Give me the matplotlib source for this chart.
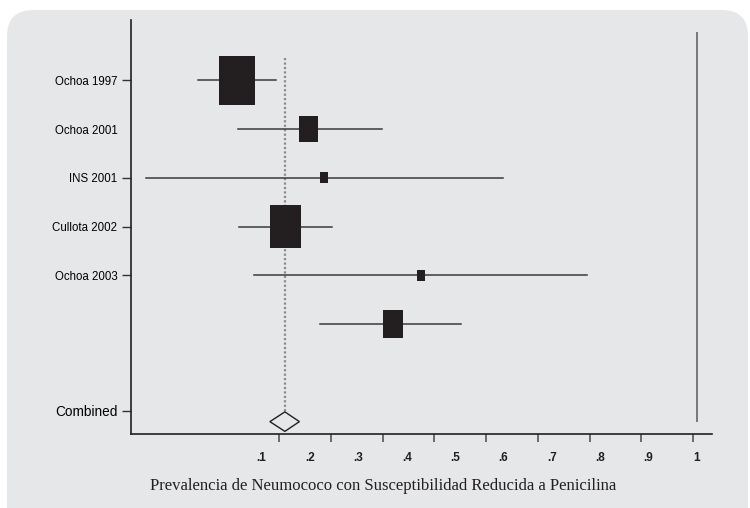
import numpy as np
import matplotlib
matplotlib.use("Agg")
import matplotlib.pyplot as plt
from matplotlib.patches import Rectangle, Polygon, FancyBboxPatch

# study data (estimate, lower CI, upper CI, weight %)
studies = ["Ochoa 1997", "Ochoa 2001", "INS 2001", "Cullota 2002", "Ochoa 2003", ""]
est = [0.049, 0.197, 0.229, 0.149, 0.429, 0.372]
lo = [-0.032, 0.051, -0.140, 0.053, 0.085, 0.221]
hi = [0.130, 0.349, 0.599, 0.245, 0.772, 0.512]
weights = [41.2, 11.5, 2.0, 30.5, 2.0, 12.7]

combined_est = 0.148
combined_lo = 0.117
combined_hi = 0.178

xtick_labels = [".1", ".2", ".3", ".4", ".5", ".6", ".7", ".8", ".9", "1"]
xtick_vals = [0.1, 0.2, 0.3, 0.4, 0.5, 0.6, 0.7, 0.8, 0.9, 1.0]

plt.rcParams['font.family'] = ['Liberation Sans', 'DejaVu Sans']

fig = plt.figure(figsize=(7.5, 5.08), dpi=100)
fig.patch.set_facecolor('white')

# rounded grey panel behind the plot
panel = FancyBboxPatch((7 / 750, -0.1), 741 / 750, (508 - 10) / 508 + 0.1,
                       boxstyle="round,pad=0,rounding_size=0.035",
                       transform=fig.transFigure, facecolor='#e6e7e9',
                       edgecolor='none', zorder=-10,
                       mutation_aspect=750 / 508)
fig.patches.append(panel)

ax = fig.add_axes([131.3 / 750, (508 - 434.3) / 508, (711.7 - 131.3) / 750, (434.3 - 20) / 508])
ax.set_facecolor('none')

ax.set_xlim(-0.1695, 1.0304)
ax.set_ylim(7.26, -1.24)

# px -> data scales (for box sizing)
px_x = (1.0304 + 0.1695) / (711.7 - 131.3)
px_y = 8.5 / (434.3 - 20)

combined_row = 7.0

# dotted line at combined estimate
ax.plot([combined_est, combined_est], [-0.46, combined_row - 0.2], color='#8a8a8a',
        linestyle=(0, (1, 1)), linewidth=1.6, zorder=1)

# vertical line at 1
ax.plot([1.0, 1.0], [-0.98, 6.98], color='#777777', linewidth=1.4, zorder=1)

for i, (e, l, h, w) in enumerate(zip(est, lo, hi, weights)):
    ax.plot([l, h], [i, i], color='#3a3a3a', linewidth=1.1, zorder=2)
    bw = 36 * np.sqrt(w / 41.2) * px_x
    bh = 36 * 1.38 * np.sqrt(w / 41.2) * px_y
    ax.add_patch(Rectangle((e - bw / 2, i - bh / 2), bw, bh,
                           facecolor='#231f20', edgecolor='none', zorder=3))

# combined diamond
dh = 0.2
ax.add_patch(Polygon([[combined_lo, combined_row], [combined_est, combined_row - dh],
                      [combined_hi, combined_row], [combined_est, combined_row + dh]],
                     closed=True, facecolor='none', edgecolor='#231f20',
                     linewidth=1.0, zorder=3))

# axes styling
for s in ['top', 'right']:
    ax.spines[s].set_visible(False)
ax.spines['left'].set_linewidth(1.2)
ax.spines['bottom'].set_linewidth(1.2)
ax.spines['left'].set_color('#231f20')
ax.spines['bottom'].set_color('#231f20')

# y labels
ylabels = studies[:5] + ["Combined"]
ypos = [0, 1, 2, 3, 4, 6.78]
ax.set_yticks(ypos)
ax.set_yticklabels(ylabels)
ax.tick_params(axis='y', direction='out', length=6.5, width=1, color='#333333', pad=3.5)
for lab in ax.get_yticklabels():
    lab.set_fontsize(8.3)
ax.get_yticklabels()[-1].set_fontsize(9.8)
ax.yaxis.get_major_ticks()[1].tick1line.set_visible(False)

# x ticks: tick marks and labels are offset as in the original figure
ax.set_xticks(np.linspace(0.136, 0.992, 9))
ax.set_xticklabels([])
ax.tick_params(axis='x', which='major', direction='out', length=6, width=1.2, color='#555555')
ax.set_xticks(xtick_vals, minor=True)
ax.set_xticklabels(xtick_labels, minor=True, fontsize=8.5, fontweight='bold', color='#231f20')
ax.tick_params(axis='x', which='minor', length=0, pad=12.5)

fig.text(383 / 750, 1 - 486 / 508, "Prevalencia de Neumococo con Susceptibilidad Reducida a Penicilina",
         ha='center', va='center', fontsize=12, family='Liberation Serif', color='#231f20')

fig.savefig('out.png', dpi=100)
